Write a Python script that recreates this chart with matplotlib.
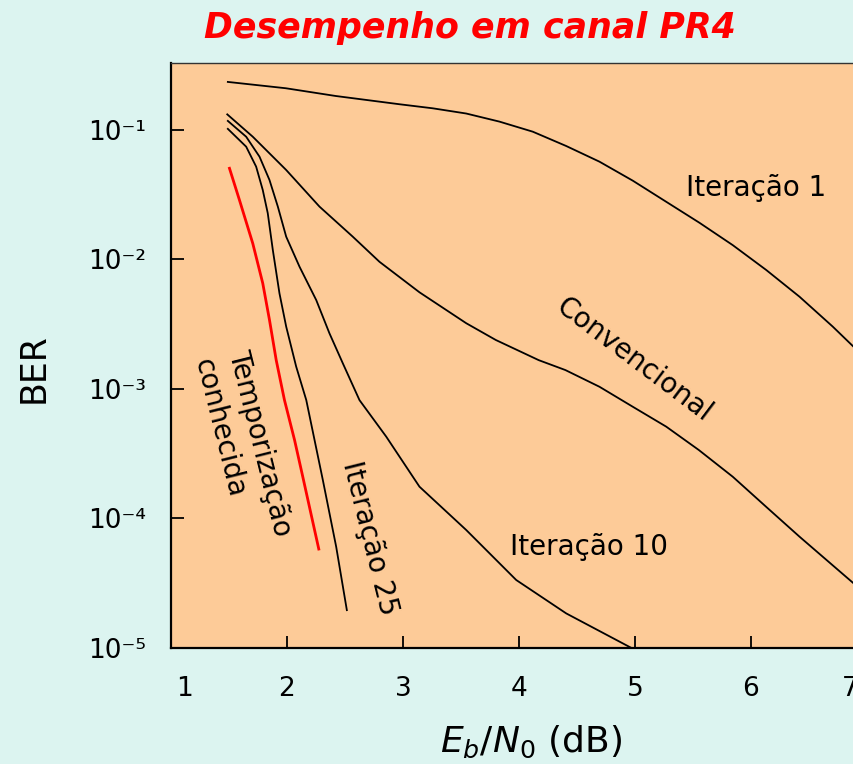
import matplotlib
matplotlib.use("Agg")
import matplotlib.pyplot as plt
from matplotlib.transforms import ScaledTranslation

# valores (Eb/N0 em dB, BER)
iter1_x = [1.49, 1.99, 2.42, 2.97, 3.257, 3.545, 3.832, 4.119, 4.407, 4.694, 4.981, 5.269,
           5.556, 5.843, 6.131, 6.418, 6.705, 6.884]
iter1_ber = [0.235, 0.21, 0.183, 0.158, 0.147, 0.134, 0.116, 0.097, 0.0752, 0.0569, 0.0406,
             0.0279, 0.0192, 0.0129, 0.0083, 0.00516, 0.00303, 0.00212]

conv_x = [1.485, 1.705, 1.993, 2.28, 2.567, 2.797, 3.142, 3.545, 3.80, 4.17, 4.40, 4.694,
          4.98, 5.269, 5.55, 5.843, 6.131, 6.418, 6.884]
conv_ber = [0.132, 0.0887, 0.0491, 0.0256, 0.0150, 0.0096, 0.00558, 0.00322, 0.00239, 0.00167,
            0.00140, 0.00104, 0.00073, 5.12e-4, 3.38e-4, 2.1e-4, 1.23e-4, 7.24e-5, 3.16e-5]

iter10_x = [1.49, 1.648, 1.763, 1.849, 1.921, 1.993, 2.108, 2.252, 2.366, 2.481, 2.625, 2.855,
            3.142, 3.545, 3.976, 4.407, 4.97]
iter10_ber = [0.1175, 0.0887, 0.0622, 0.0411, 0.0256, 0.0150, 0.00879, 0.00486, 0.00269, 0.00158,
              8.2e-4, 4.29e-4, 1.76e-4, 8.15e-5, 3.35e-5, 1.85e-5, 1.0e-5]

iter25_x = [1.49, 1.648, 1.734, 1.791, 1.834, 1.878, 1.935, 1.993, 2.079, 2.166, 2.309, 2.424, 2.516]
iter25_ber = [0.102, 0.0743, 0.0521, 0.0344, 0.0228, 0.0118, 0.00548, 0.00303, 0.00149, 8.22e-4,
              1.98e-4, 6.05e-5, 1.96e-5]

known_x = [1.504, 1.59, 1.705, 1.791, 1.849, 1.907, 1.978, 2.065, 2.136, 2.274]
known_ber = [0.0506, 0.0288, 0.0133, 0.00655, 0.00341, 0.00167, 8.22e-4, 4.04e-4, 2.10e-4, 5.81e-5]

xticks = [1, 2, 3, 4, 5, 6, 7]
yticks = [1e-5, 1e-4, 1e-3, 1e-2, 1e-1]
ytick_labels = ["10⁻⁵", "10⁻⁴", "10⁻³", "10⁻²", "10⁻¹"]

plt.rcParams["mathtext.default"] = "regular"
plt.rcParams["font.family"] = "DejaVu Sans"

bg = "#dcf4f0"
fig = plt.figure(figsize=(8.54, 7.64), dpi=100, facecolor=bg)
ax = fig.add_axes([171 / 854, 116 / 764, 6.5 * 116 / 854, 585 / 764])
ax.set_facecolor("#fdcb98")

ax.plot(iter1_x, iter1_ber, color="black", lw=1.3)
ax.plot(conv_x, conv_ber, color="black", lw=1.3)
ax.plot(iter10_x, iter10_ber, color="black", lw=1.3)
ax.plot(iter25_x, iter25_ber, color="black", lw=1.3)
ax.plot(known_x, known_ber, color="red", lw=2.0)

ax.set_yscale("log")
ax.set_xlim(1, 7.5)
ax.set_ylim(1e-5, 0.329)
ax.minorticks_off()

ax.tick_params(axis="both", direction="in", length=9, width=1.3, labelsize=19, color="black")
ax.tick_params(axis="x", pad=20)
ax.tick_params(axis="y", pad=18)
ax.set_xticks(xticks)
ax.set_xticklabels([str(v) for v in xticks])
ax.set_yticks(yticks)
ax.set_yticklabels(ytick_labels)

# deslocar "1" e "7" como na figura original
xl = ax.get_xticklabels()
xl[0].set_transform(xl[0].get_transform() + ScaledTranslation(0.14, 0, fig.dpi_scale_trans))
xl[-1].set_transform(xl[-1].get_transform() + ScaledTranslation(-0.17, 0, fig.dpi_scale_trans))

for s in ["left", "bottom"]:
    ax.spines[s].set_linewidth(1.6)
ax.spines["top"].set_linewidth(1.0)
ax.spines["top"].set_color("#333333")

fig.text(34 / 854, 1 - 368 / 764, "BER", fontsize=25, rotation=90, ha="center", va="center")
fig.text(531 / 854, 1 - 742 / 764, r"$\mathit{E_b}/\mathit{N}_0$ (dB)", fontsize=26,
         ha="center", va="center")

fig.text(470 / 854, 1 - 28 / 764, "Desempenho em canal PR4", color="red", fontsize=25,
         fontweight="bold", fontstyle="italic", ha="center", va="center")

ax.text(6.047, 0.0356, "Iteração 1", fontsize=20, ha="center", va="center")
ax.text(4.996, 1.67e-3, "Convencional", fontsize=20, rotation=-37, ha="center", va="center")
ax.text(4.6, 6.0e-5, "Iteração 10", fontsize=20, ha="center", va="center")
ax.text(2.71, 7.1e-5, "Iteração 25", fontsize=20, rotation=-76, ha="center", va="center")
ax.text(1.616, 3.56e-4, "Temporização\nconhecida", fontsize=20, rotation=-76,
        ha="center", va="center", multialignment="left", linespacing=1.35)

fig.savefig("out.png", dpi=100, facecolor=bg)
